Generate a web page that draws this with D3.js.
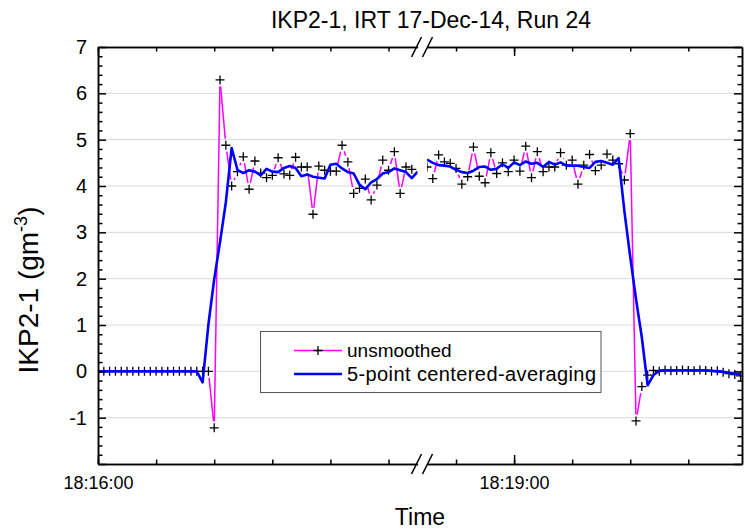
<!DOCTYPE html>
<meta charset="utf-8">
<title>IKP2-1, IRT 17-Dec-14, Run 24</title>
<style>
  body { margin: 0; background: #fff; }
  text { font-family: "Liberation Sans", Arial, sans-serif; fill: #000; }
</style>
<body>
<div id="chart"></div>
<script src="https://cdn.jsdelivr.net/npm/d3@7"></script>
<script>

// two pieces of the record, 1 s samples, the time in between is cut out
var startA = "18:16:00",
    startB = "18:18:45";

var rawA = [0, 0, 0, 0, 0, 0, 0, 0, 0, 0, 0, 0, 0, 0, 0, 0, 0, 0, 0, 0,
  -1.22, 6.29, 4.88, 4.00, 4.31, 4.63, 3.93, 4.54, 4.28, 4.18, 4.23, 4.61, 4.26, 4.23,
  4.62, 4.41, 4.41, 3.39, 4.43, 4.34, 4.32, 4.32, 4.88, 4.52, 3.84, 3.95, 4.15, 3.70,
  4.02, 4.56, 4.34, 4.74, 3.84, 4.41, 4.36];

var smoothA = [0, 0, 0, 0, 0, 0, 0, 0, 0, 0, 0, 0, 0, 0, 0, 0, 0, 0,
  -0.24, 1.01, 1.99, 2.79, 3.65, 4.82, 4.35, 4.28, 4.34, 4.31, 4.23, 4.37, 4.31, 4.30,
  4.39, 4.43, 4.39, 4.21, 4.25, 4.20, 4.18, 4.16, 4.46, 4.48, 4.38, 4.30, 4.27, 4.03,
  3.93, 4.08, 4.15, 4.27, 4.30, 4.38, 4.34, 4.30, 4.17, 4.31];

var rawB = [4.41, 4.16, 4.67, 4.52, 4.49, 4.38, 4.04, 4.20, 4.84, 4.21, 4.07, 4.72,
  4.27, 4.50, 4.31, 4.56, 4.32, 4.86, 4.18, 4.74, 4.31, 4.41, 4.41, 4.72, 4.45, 4.56,
  4.04, 4.45, 4.68, 4.33, 4.45, 4.69, 4.56, 4.48, 4.13, 5.13, -1.07, -0.33, -0.08,
  0.02, 0.00, 0.03, 0.01, 0.02, 0.03, 0.02, 0.01, 0.03, 0.02, 0.00, 0.01,
  -0.02, -0.05, -0.07, -0.10];

var smoothB = [4.57, 4.50, 4.45, 4.44, 4.42, 4.35, 4.30, 4.28, 4.33, 4.41, 4.42, 4.35,
  4.37, 4.47, 4.39, 4.51, 4.45, 4.53, 4.48, 4.50, 4.41, 4.52, 4.46, 4.51, 4.44, 4.44,
  4.44, 4.41, 4.39, 4.52, 4.54, 4.50, 4.46, 4.60, 3.45, 2.47, 1.56, 0.73, -0.30, -0.08,
  0.01, 0.02, 0.02, 0.02, 0.02, 0.02, 0.02, 0.02, 0.02, 0.01, 0.00,
  -0.01, -0.03, -0.05, -0.06];

var yMajor = [-2, -1, 0, 1, 2, 3, 4, 5, 6, 7];
var xMajor = ["18:16:00", "18:19:00"];
var seriesNames = ["unsmoothed", "5-point centered-averaging"];

// layout ("top" is taken by window.top, so use a margin object)
var width = 745, height = 529;
var m = {left: 98, right: 742, top: 47, bottom: 464};
var endA = 417.6, startXB = 427;   // the axis break sits between these

var parse = d3.timeParse("%H:%M:%S"),
    fmt = d3.timeFormat("%H:%M:%S");

var t0A = parse(startA), t0B = parse(startB);

function toPoints(values, t0) {
  return values.map(function(v, i) { return { t: d3.timeSecond.offset(t0, i), v: v }; });
}

var xA = d3.scaleTime()
    .domain([t0A, d3.timeSecond.offset(t0A, 55)])
    .range([m.left, endA]);
var xB = d3.scaleTime()
    .domain([t0B, new Date(+t0B + 54250)])
    .range([startXB, m.right]);
var y = d3.scaleLinear().domain([-2, 7]).range([m.bottom, m.top]);

var svg = d3.select("#chart").append("svg")
    .attr("width", width)
    .attr("height", height);

// grid
svg.append("g").selectAll("line")
  .data(yMajor.filter(function(d) { return d > -2 && d < 7; }))
  .enter().append("line")
    .attr("x1", m.left).attr("x2", m.right)
    .attr("y1", function(d) { return y(d); })
    .attr("y2", function(d) { return y(d); })
    .style("stroke", "#dadada")
    .style("stroke-width", 1);

var defs = svg.append("defs");
defs.append("clipPath").attr("id", "clipA").append("rect")
    .attr("x", m.left).attr("y", m.top).attr("width", endA - m.left).attr("height", m.bottom - m.top);
defs.append("clipPath").attr("id", "clipB").append("rect")
    .attr("x", startXB).attr("y", m.top).attr("width", m.right - startXB).attr("height", m.bottom - m.top);

var line = d3.line()
    .x(function(d) { return d[0]; })
    .y(function(d) { return d[1]; });

// Origin leaves a small gap round every symbol
function gapped(points, x, gap) {
  var px = points.map(function(d) { return [x(d.t), y(d.v)]; });
  var segs = [];
  for (var i = 1; i < px.length; i++) {
    var p = px[i - 1], q = px[i];
    var dx = q[0] - p[0], dy = q[1] - p[1], len = Math.sqrt(dx * dx + dy * dy);
    if (len <= 2 * gap) continue;
    var ux = dx / len, uy = dy / len;
    segs.push([[p[0] + ux * gap, p[1] + uy * gap], [q[0] - ux * gap, q[1] - uy * gap]]);
  }
  return segs;
}

function plus(x0, y0, r) {
  return "M" + (x0 - r) + "," + y0 + "h" + (2 * r) + "M" + x0 + "," + (y0 - r) + "v" + (2 * r);
}

function drawSegment(raw, smooth, t0, x, clip) {
  var g = svg.append("g").attr("clip-path", "url(#" + clip + ")");
  var rp = toPoints(raw, t0), sp = toPoints(smooth, t0);

  g.selectAll(".raw").data(gapped(rp, x, 6.5)).enter().append("path")
      .attr("d", line)
      .style("fill", "none")
      .style("stroke", "#ff00ff")
      .style("stroke-width", 1.5);

  g.selectAll(".mark").data(rp).enter().append("path")
      .attr("d", function(d) { return plus(x(d.t), y(d.v), 4.5); })
      .style("stroke", "#000")
      .style("stroke-width", 1.3);

  g.append("path")
      .datum(sp.map(function(d) { return [x(d.t), y(d.v)]; }))
      .attr("d", line)
      .style("fill", "none")
      .style("stroke", "#0000ff")
      .style("stroke-width", 2.6)
      .style("stroke-linejoin", "round");
}

drawSegment(rawA, smoothA, t0A, xA, "clipA");
drawSegment(rawB, smoothB, t0B, xB, "clipB");

// axes
function styleAxis(g) {
  g.selectAll("path, line").style("stroke", "#000").style("stroke-width", 1.5);
  g.selectAll("text").style("font-size", "18px").style("font-family", "'Liberation Sans', Arial, sans-serif");
}

var majors = xMajor.map(parse);

[xA, xB].forEach(function(x) {
  var dom = x.domain();
  var mj = majors.filter(function(d) { return d >= dom[0] && d <= dom[1]; });
  var minorT = d3.timeSecond.every(10).range(dom[0], dom[1]);

  svg.append("g").attr("transform", "translate(0," + m.bottom + ")")
      .call(d3.axisBottom(x).tickValues(minorT).tickSize(-4.5).tickSizeOuter(0).tickFormat(""))
      .call(styleAxis);
  svg.append("g").attr("transform", "translate(0," + m.bottom + ")")
      .call(d3.axisBottom(x).tickValues(mj).tickSize(-9).tickSizeOuter(0).tickPadding(12).tickFormat(fmt))
      .call(styleAxis);
  svg.append("g").attr("transform", "translate(0," + m.top + ")")
      .call(d3.axisTop(x).tickValues(minorT).tickSize(-4.5).tickSizeOuter(0).tickFormat(""))
      .call(styleAxis);
  svg.append("g").attr("transform", "translate(0," + m.top + ")")
      .call(d3.axisTop(x).tickValues(mj).tickSize(-9).tickSizeOuter(0).tickFormat(""))
      .call(styleAxis);
});

var yMinor = d3.range(-20, 70, 2).map(function(d) { return d / 10; })
    .filter(function(d) { return yMajor.indexOf(d) < 0; });

svg.append("g").attr("transform", "translate(" + m.left + ",0)")
    .call(d3.axisLeft(y).tickValues(yMinor).tickSize(-4.5).tickSizeOuter(0).tickFormat(""))
    .call(styleAxis);
svg.append("g").attr("transform", "translate(" + m.left + ",0)")
    .call(d3.axisLeft(y).tickValues(yMajor).tickSize(-8).tickSizeOuter(0).tickPadding(11)
      .tickFormat(function(d) { return d === -2 ? "" : String(d); }))
    .call(styleAxis)
    .selectAll("text").style("font-size", "20px");
svg.append("g").attr("transform", "translate(" + m.right + ",0)")
    .call(d3.axisRight(y).tickValues(yMinor).tickSize(-4.5).tickSizeOuter(0).tickFormat(""))
    .call(styleAxis);
svg.append("g").attr("transform", "translate(" + m.right + ",0)")
    .call(d3.axisRight(y).tickValues(yMajor).tickSize(-8).tickSizeOuter(0).tickFormat(""))
    .call(styleAxis);

// break marks
[m.top, m.bottom].forEach(function(yy) {
  [416.5, 427.5].forEach(function(cx) {
    svg.append("line")
        .attr("x1", cx - 5).attr("y1", yy + 10)
        .attr("x2", cx + 5).attr("y2", yy - 10)
        .style("stroke", "#000").style("stroke-width", 1.5);
  });
});

// titles
svg.append("text")
    .attr("x", 431).attr("y", 28)
    .attr("text-anchor", "middle")
    .style("font-size", "23px")
    .text("IKP2-1, IRT 17-Dec-14, Run 24");

svg.append("text")
    .attr("x", 420).attr("y", 525)
    .attr("text-anchor", "middle")
    .style("font-size", "23px")
    .text("Time");

var yl = svg.append("text")
    .attr("transform", "translate(38,290) rotate(-90)")
    .attr("text-anchor", "middle")
    .style("font-size", "28px");
yl.append("tspan").text("IKP2-1 (gm");
yl.append("tspan").attr("dy", -11).style("font-size", "18px").text("-3");
yl.append("tspan").attr("dy", 11).text(")");

// legend
var lg = svg.append("g");
lg.append("rect")
    .attr("x", 260.5).attr("y", 331.5).attr("width", 340.5).attr("height", 61)
    .style("fill", "#fff").style("stroke", "#555").style("stroke-width", 1);
lg.append("line").attr("x1", 294).attr("x2", 342).attr("y1", 350.5).attr("y2", 350.5)
    .style("stroke", "#ff00ff").style("stroke-width", 1.5);
lg.append("path").attr("d", plus(318, 350.5, 4.5)).style("stroke", "#000").style("stroke-width", 1.3);
lg.append("line").attr("x1", 294).attr("x2", 342).attr("y1", 374).attr("y2", 374)
    .style("stroke", "#0000ff").style("stroke-width", 2.6);
lg.selectAll(".lt").data(seriesNames).enter().append("text")
    .attr("x", 347)
    .attr("y", function(d, i) { return 357 + i * 23.5; })
    .style("font-size", function(d, i) { return i ? "20px" : "19px"; })
    .attr("textLength", function(d, i) { return i ? 249 : null; })
    .attr("lengthAdjust", "spacing")
    .text(function(d) { return d; });

</script>
</body>
